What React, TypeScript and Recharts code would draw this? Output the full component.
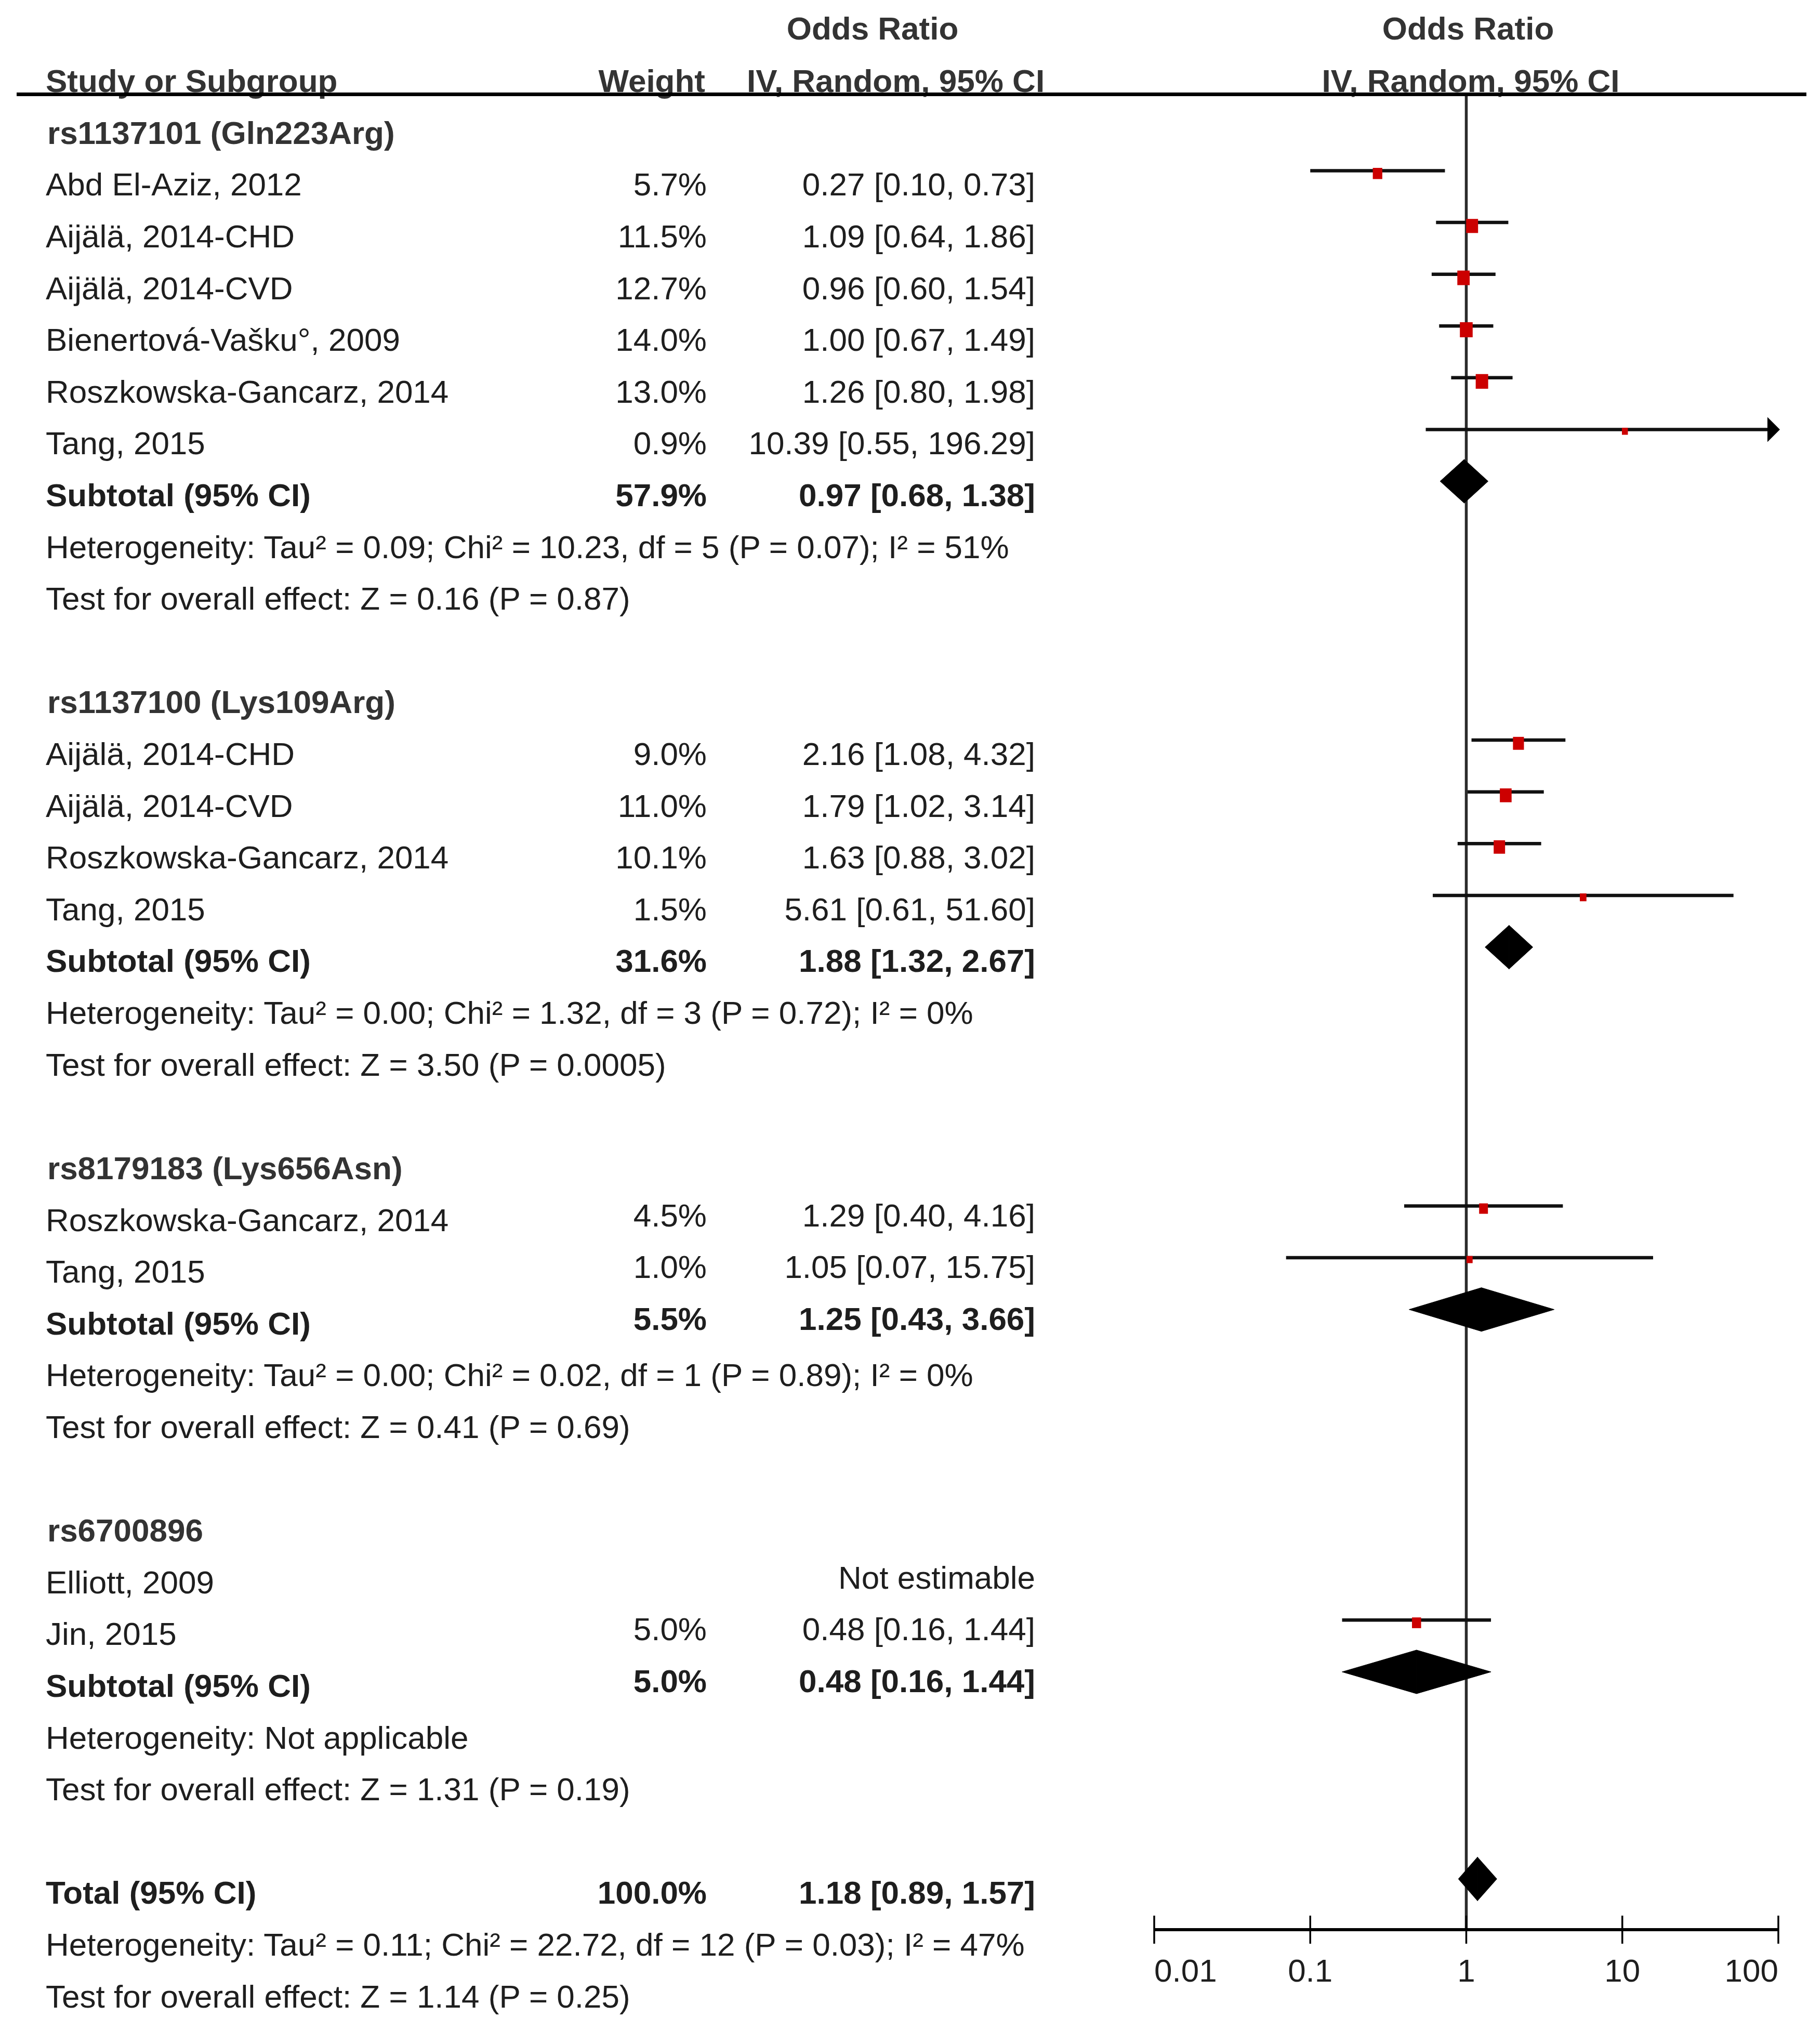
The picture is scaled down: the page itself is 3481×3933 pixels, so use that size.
import React from 'react';
import { ComposedChart, XAxis, YAxis, Scatter, ReferenceLine } from 'recharts';

// ---------------- DATA ----------------
const groupTitles = ['rs1137101 (Gln223Arg)', 'rs1137100 (Lys109Arg)', 'rs8179183 (Lys656Asn)', 'rs6700896'];

const studyGroup = [0, 0, 0, 0, 0, 0, 1, 1, 1, 1, 2, 2, 3, 3];
const studyNames = [
  'Abd El-Aziz, 2012',
  'Aijälä, 2014-CHD',
  'Aijälä, 2014-CVD',
  'Bienertová-Vašku°, 2009',
  'Roszkowska-Gancarz, 2014',
  'Tang, 2015',
  'Aijälä, 2014-CHD',
  'Aijälä, 2014-CVD',
  'Roszkowska-Gancarz, 2014',
  'Tang, 2015',
  'Roszkowska-Gancarz, 2014',
  'Tang, 2015',
  'Elliott, 2009',
  'Jin, 2015',
];
const studyWeights: (number | null)[] = [5.7, 11.5, 12.7, 14.0, 13.0, 0.9, 9.0, 11.0, 10.1, 1.5, 4.5, 1.0, null, 5.0];
const studyOR: (number | null)[] = [0.27, 1.09, 0.96, 1.0, 1.26, 10.39, 2.16, 1.79, 1.63, 5.61, 1.29, 1.05, null, 0.48];
const studyLower: (number | null)[] = [0.1, 0.64, 0.6, 0.67, 0.8, 0.55, 1.08, 1.02, 0.88, 0.61, 0.4, 0.07, null, 0.16];
const studyUpper: (number | null)[] = [0.73, 1.86, 1.54, 1.49, 1.98, 196.29, 4.32, 3.14, 3.02, 51.6, 4.16, 15.75, null, 1.44];

const subtotalWeights = [57.9, 31.6, 5.5, 5.0];
const subtotalOR = [0.97, 1.88, 1.25, 0.48];
const subtotalLower = [0.68, 1.32, 0.43, 0.16];
const subtotalUpper = [1.38, 2.67, 3.66, 1.44];

const heterogeneityTexts = [
  'Heterogeneity: Tau² = 0.09; Chi² = 10.23, df = 5 (P = 0.07); I² = 51%',
  'Heterogeneity: Tau² = 0.00; Chi² = 1.32, df = 3 (P = 0.72); I² = 0%',
  'Heterogeneity: Tau² = 0.00; Chi² = 0.02, df = 1 (P = 0.89); I² = 0%',
  'Heterogeneity: Not applicable',
];
const overallEffectTexts = [
  'Test for overall effect: Z = 0.16 (P = 0.87)',
  'Test for overall effect: Z = 3.50 (P = 0.0005)',
  'Test for overall effect: Z = 0.41 (P = 0.69)',
  'Test for overall effect: Z = 1.31 (P = 0.19)',
];

const totalWeight = 100.0;
const totalOR = 1.18;
const totalLower = 0.89;
const totalUpper = 1.57;
const totalHeterogeneity = 'Heterogeneity: Tau² = 0.11; Chi² = 22.72, df = 12 (P = 0.03); I² = 47%';
const totalOverallEffect = 'Test for overall effect: Z = 1.14 (P = 0.25)';

const axisTicks = [0.01, 0.1, 1, 10, 100];
const axisDomain = [0.01, 100];
const notEstimableText = 'Not estimable';

// ---------------- LAYOUT / STYLE ----------------
const W = 3481;
const H = 3933;
const FONT = '"Liberation Sans", Arial, Helvetica, sans-serif';
const FS = 62;
const TEXT_COLOR = '#1e1e1e';
const PLOT_LEFT = 2221;
const PLOT_RIGHT = 3422;
const PLOT_TOP = 181;
const AXIS_Y = 3713;
const XAXIS_H = 150;
const ROW_MIN = -1.48;
const ROW_MAX = 33.98;
const NAME_X = 88;
const GROUP_X = 91;
const WEIGHT_X = 1360;
const CI_X = 1992;
const TEXT_DY = 48;
const SQUARE_RED = '#cc0000';
const DIAMOND_HALF_H = 42;
const CI_STROKE = 6.5;

const rowY = (r: number) => PLOT_TOP + ((r - ROW_MIN) / (ROW_MAX - ROW_MIN)) * (AXIS_Y - PLOT_TOP);
const fmtW = (w: number) => `${w.toFixed(1)}%`;
const fmtCI = (o: number, l: number, u: number) => `${o.toFixed(2)} [${l.toFixed(2)}, ${u.toFixed(2)}]`;

type TextRow = { row: number; name: string; bold?: boolean; isGroup?: boolean; weight?: string; ci?: string; numDy?: number };
type Interval = { row: number; or: number; lo: number; hi: number; w?: number };

const textRows: TextRow[] = [];
const studyIntervals: Interval[] = [];
const subtotalIntervals: Interval[] = [];
let r = -1;
groupTitles.forEach((title, g) => {
  const numDy = g >= 2 ? -9 : 0;
  textRows.push({ row: r, name: title, bold: true, isGroup: true });
  r += 1;
  studyNames.forEach((name, i) => {
    if (studyGroup[i] !== g) return;
    const o = studyOR[i];
    const w = studyWeights[i];
    if (o == null || w == null) {
      textRows.push({ row: r, name, ci: notEstimableText, numDy });
    } else {
      textRows.push({ row: r, name, weight: fmtW(w), ci: fmtCI(o, studyLower[i] as number, studyUpper[i] as number), numDy });
      studyIntervals.push({ row: r, or: o, lo: studyLower[i] as number, hi: studyUpper[i] as number, w });
    }
    r += 1;
  });
  textRows.push({
    row: r,
    name: 'Subtotal (95% CI)',
    bold: true,
    weight: fmtW(subtotalWeights[g]),
    ci: fmtCI(subtotalOR[g], subtotalLower[g], subtotalUpper[g]),
    numDy,
  });
  subtotalIntervals.push({ row: r, or: subtotalOR[g], lo: subtotalLower[g], hi: subtotalUpper[g] });
  r += 1;
  textRows.push({ row: r, name: heterogeneityTexts[g] });
  r += 1;
  textRows.push({ row: r, name: overallEffectTexts[g] });
  r += 2;
});
textRows.push({ row: r, name: 'Total (95% CI)', bold: true, weight: fmtW(totalWeight), ci: fmtCI(totalOR, totalLower, totalUpper) });
subtotalIntervals.push({ row: r, or: totalOR, lo: totalLower, hi: totalUpper });
textRows.push({ row: r + 1, name: totalHeterogeneity });
textRows.push({ row: r + 2, name: totalOverallEffect });

const squareData = studyIntervals.map((s) => ({ x: s.or, y: s.row, w: s.w }));

// ---------------- SHAPES ----------------
const CiShape = (clipped: boolean) => (p: any) => {
  const { x1, y1, x2 } = p;
  if (!clipped) {
    return <line x1={x1} y1={y1} x2={x2} y2={y1} stroke="#111" strokeWidth={CI_STROKE} />;
  }
  return (
    <g>
      <line x1={x1} y1={y1} x2={x2 - 16} y2={y1} stroke="#111" strokeWidth={CI_STROKE} />
      <polygon points={`${x2 + 3},${y1} ${x2 - 21},${y1 - 24} ${x2 - 21},${y1 + 24}`} fill="#000" />
    </g>
  );
};

const LeftHalf = (p: any) => {
  const { x1, y1, x2 } = p;
  return (
    <polygon
      points={`${x1},${y1} ${x2},${y1 - DIAMOND_HALF_H} ${x2},${y1 + DIAMOND_HALF_H}`}
      fill="#000"
      stroke="#000"
      strokeWidth={1}
    />
  );
};
const RightHalf = (p: any) => {
  const { x1, y1, x2 } = p;
  return (
    <polygon
      points={`${x1},${y1 - DIAMOND_HALF_H} ${x2},${y1} ${x1},${y1 + DIAMOND_HALF_H}`}
      fill="#000"
      stroke="#000"
      strokeWidth={1}
    />
  );
};

const SquareShape = (props: any) => {
  const { cx, cy, payload } = props;
  const sw = 7 + 4.7 * Math.sqrt(payload.w);
  const sh = sw * 1.18;
  return <rect x={cx - sw / 2} y={cy - sh * 0.25} width={sw} height={sh} fill={SQUARE_RED} />;
};

const AxisTick = (props: any) => {
  const { x, y, payload, index } = props;
  const last = axisTicks.length - 1;
  const anchor = index === 0 ? 'start' : index === last ? 'end' : 'middle';
  return (
    <g>
      <line x1={x} x2={x} y1={y - 27} y2={y + 27} stroke="#000" strokeWidth={3.5} />
      <text x={x} y={y + 100} textAnchor={anchor} fontFamily={FONT} fontSize={FS} fill={TEXT_COLOR}>
        {String(payload.value)}
      </text>
    </g>
  );
};

// ---------------- COMPONENT ----------------
export default function App() {
  const maxX = axisDomain[1];
  return (
    <div style={{ position: 'absolute', left: 0, top: 0, width: W, height: H, background: '#fff' }}>
      <ComposedChart
        width={W}
        height={H}
        margin={{ top: PLOT_TOP, right: W - PLOT_RIGHT, bottom: H - AXIS_Y - XAXIS_H, left: PLOT_LEFT }}
      >
        <XAxis
          type="number"
          dataKey="x"
          scale="log"
          domain={axisDomain}
          ticks={axisTicks}
          interval={0}
          allowDataOverflow
          height={XAXIS_H}
          axisLine={{ stroke: '#000', strokeWidth: 6 }}
          tickLine={false}
          tickSize={0}
          tickMargin={0}
          tick={(p: any) => <AxisTick {...p} />}
        />
        <YAxis type="number" dataKey="y" domain={[ROW_MIN, ROW_MAX]} reversed hide allowDataOverflow />
        <ReferenceLine x={1} stroke="#2b2b2b" strokeWidth={5.5} ifOverflow="visible" />
        {studyIntervals.map((s, i) => (
          <ReferenceLine
            key={`ci-${i}`}
            segment={[
              { x: s.lo, y: s.row },
              { x: Math.min(s.hi, maxX), y: s.row },
            ]}
            ifOverflow="visible"
            shape={CiShape(s.hi > maxX)}
          />
        ))}
        {subtotalIntervals.map((s, i) => (
          <ReferenceLine
            key={`dl-${i}`}
            segment={[
              { x: s.lo, y: s.row },
              { x: s.or, y: s.row },
            ]}
            ifOverflow="visible"
            shape={LeftHalf}
          />
        ))}
        {subtotalIntervals.map((s, i) => (
          <ReferenceLine
            key={`dr-${i}`}
            segment={[
              { x: s.or, y: s.row },
              { x: s.hi, y: s.row },
            ]}
            ifOverflow="visible"
            shape={RightHalf}
          />
        ))}
        <Scatter data={squareData} isAnimationActive={false} shape={SquareShape} />
      </ComposedChart>
      <svg width={W} height={H} style={{ position: 'absolute', left: 0, top: 0, pointerEvents: 'none' }}>
        <g fontFamily={FONT} fontSize={FS} fill={TEXT_COLOR}>
          <text x={1679} y={76} textAnchor="middle" fontWeight="bold" fill="#333">Odds Ratio</text>
          <text x={2825} y={76} textAnchor="middle" fontWeight="bold" fill="#333">Odds Ratio</text>
          <text x={NAME_X} y={177} fontWeight="bold" fill="#333">Study or Subgroup</text>
          <text x={1357} y={177} textAnchor="end" fontWeight="bold" fill="#333">Weight</text>
          <text x={1437} y={177} fontWeight="bold" fill="#333">IV, Random, 95% CI</text>
          <text x={2830} y={177} textAnchor="middle" fontWeight="bold" fill="#333">IV, Random, 95% CI</text>
          {textRows.map((t, i) => {
            const y = rowY(t.row) + TEXT_DY;
            const ny = y + (t.numDy || 0);
            return (
              <g key={i} fontWeight={t.bold ? 'bold' : 'normal'} fill={t.isGroup ? '#333' : TEXT_COLOR}>
                <text x={t.isGroup ? GROUP_X : NAME_X} y={y}>{t.name}</text>
                {t.weight && (
                  <text x={WEIGHT_X} y={ny} textAnchor="end">{t.weight}</text>
                )}
                {t.ci && (
                  <text x={CI_X} y={ny} textAnchor="end">{t.ci}</text>
                )}
              </g>
            );
          })}
        </g>
        <line x1={32} x2={3476} y1={181.5} y2={181.5} stroke="#000" strokeWidth={7} />
      </svg>
    </div>
  );
}
